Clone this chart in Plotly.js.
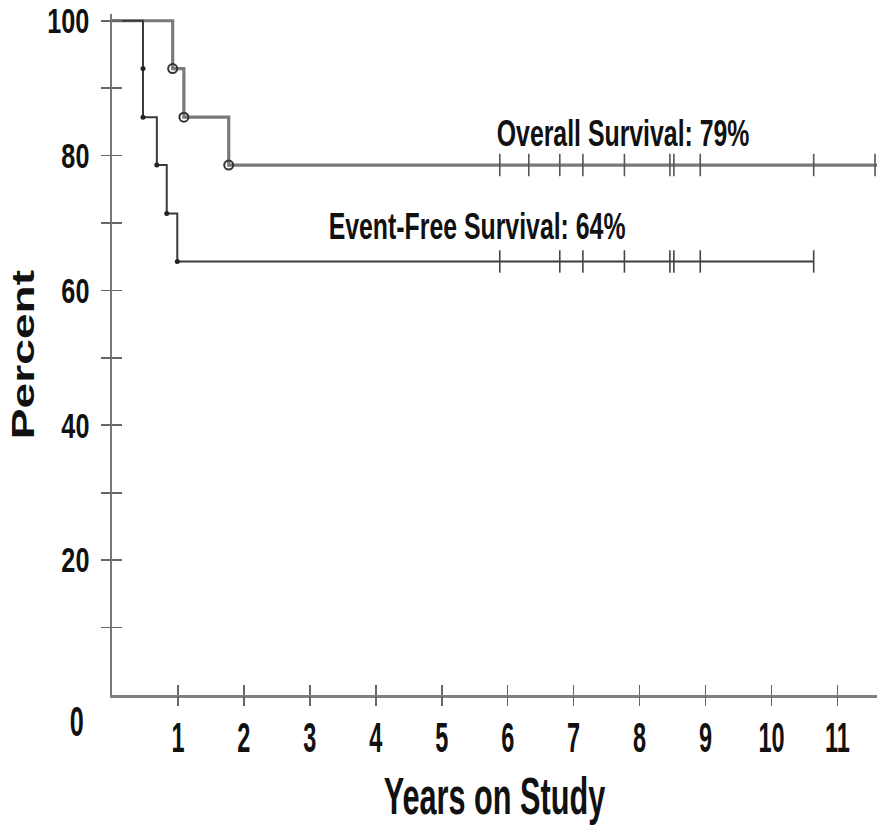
<!DOCTYPE html>
<html>
<head>
<meta charset="utf-8">
<script src="https://cdn.plot.ly/plotly-3.0.1.min.js"></script>
<style>html,body{margin:0;padding:0;background:#fff;}#chart{width:877px;height:826px;}</style>
</head>
<body>
<div id="chart"></div>
<script>
// Overall survival (Kaplan-Meier steps)
const osTimes   = [0, 0.92, 1.09, 1.77, 11.6];
const osPercent = [100, 92.9, 85.7, 78.6, 78.6];
const osEventTimes   = [0.92, 1.09, 1.77];
const osEventPercent = [92.9, 85.7, 78.6];
const osCensorTimes  = [5.88, 6.32, 6.79, 7.14, 7.77, 8.46, 8.52, 8.92, 10.64, 11.57];
const osCensorLevel  = 78.6;

// Event-free survival
const efsTimes   = [0, 0.47, 0.47, 0.68, 0.83, 0.99, 10.64];
const efsPercent = [100, 92.9, 85.7, 78.6, 71.4, 64.3, 64.3];
const efsEventTimes   = [0.47, 0.47, 0.68, 0.83, 0.99];
const efsEventPercent = [92.9, 85.7, 78.6, 71.4, 64.3];
const efsCensorTimes  = [5.88, 6.79, 7.14, 7.77, 8.46, 8.52, 8.92, 10.64];
const efsCensorLevel  = 64.3;

// Axis ticks
const xTickVals = [1, 2, 3, 4, 5, 6, 7, 8, 9, 10, 11];
const xTickText = ['1', '2', '3', '4', '5', '6', '7', '8', '9', '10', '11'];
const yTickVals = [10, 20, 30, 40, 50, 60, 70, 80, 90, 100];
const yTickText = ['', '20', '', '40', '', '60', '', '80', '', '100'];

// Labels
const osLabel = 'Overall Survival: 79%';
const efsLabel = 'Event-Free Survival: 64%';
const originLabel = '0';
const xTitle = 'Years on Study';
const yTitle = 'Percent';

const FONT = '"Liberation Sans", Arial, Helvetica, sans-serif';

const traces = [
  {x: osTimes, y: osPercent, mode: 'lines', line: {shape: 'hv', color: '#7a7a7a', width: 3.2}, hoverinfo: 'skip', showlegend: false},
  {x: efsTimes, y: efsPercent, mode: 'lines', line: {shape: 'hv', color: '#3a3a3a', width: 2}, hoverinfo: 'skip', showlegend: false},
  {x: osCensorTimes, y: osCensorTimes.map(() => osCensorLevel), mode: 'markers',
   marker: {symbol: 'line-ns', size: 16, line: {width: 1.6, color: '#555'}}, hoverinfo: 'skip', showlegend: false},
  {x: efsCensorTimes, y: efsCensorTimes.map(() => efsCensorLevel), mode: 'markers',
   marker: {symbol: 'line-ns', size: 16, line: {width: 1.6, color: '#444'}}, hoverinfo: 'skip', showlegend: false},
  {x: osEventTimes, y: osEventPercent, mode: 'markers',
   marker: {symbol: 'circle-open', size: 9, color: '#333', line: {width: 2, color: '#333'}}, hoverinfo: 'skip', showlegend: false},
  {x: efsEventTimes, y: efsEventPercent, mode: 'markers',
   marker: {symbol: 'circle', size: 5, color: '#222'}, hoverinfo: 'skip', showlegend: false},
  {x: [], y: [], xaxis: 'x2', yaxis: 'y2', hoverinfo: 'skip', showlegend: false}
];

const layout = {
  width: 877, height: 826,
  margin: {l: 112, r: 0, t: 14, b: 131},
  paper_bgcolor: '#fff', plot_bgcolor: '#fff',
  font: {family: FONT, color: '#111'},
  // main axes: line, inner half of the crossing ticks, tick labels
  xaxis: {
    range: [0, 11.6], showgrid: false, zeroline: false,
    showline: true, linecolor: '#808080', linewidth: 3,
    ticks: 'inside', ticklen: 10, tickwidth: 1.6, tickcolor: '#666',
    tickmode: 'array', tickvals: xTickVals, ticktext: xTickText,
    tickfont: {family: FONT, size: 42, color: '#111', weight: 'bold'},
    ticklabelstandoff: 4, ticklabeloverflow: 'allow'
  },
  yaxis: {
    range: [0, 101], showgrid: false, zeroline: false,
    showline: true, linecolor: '#777', linewidth: 1.6,
    ticks: 'inside', ticklen: 10, tickwidth: 1.6, tickcolor: '#666',
    tickmode: 'array', tickvals: yTickVals, ticktext: yTickText,
    tickfont: {family: FONT, size: 35, color: '#111', weight: 'bold'},
    ticklabelstandoff: 14, ticklabeloverflow: 'allow'
  },
  // overlay axes: outer half of the crossing ticks and the axis titles
  xaxis2: {
    range: [0, 11.6], overlaying: 'x', anchor: 'y', side: 'bottom',
    showgrid: false, zeroline: false, showline: false,
    ticks: 'outside', ticklen: 10, tickwidth: 1.6, tickcolor: '#666',
    tickmode: 'array', tickvals: xTickVals, showticklabels: false,
    title: {text: xTitle, font: {family: FONT, size: 52, color: '#111', weight: 'bold'}, standoff: 72}
  },
  yaxis2: {
    range: [0, 101], overlaying: 'y', anchor: 'x', side: 'left',
    showgrid: false, zeroline: false, showline: false,
    ticks: 'outside', ticklen: 10, tickwidth: 1.6, tickcolor: '#666',
    tickmode: 'array', tickvals: yTickVals, showticklabels: false,
    title: {text: yTitle, font: {family: FONT, size: 31, color: '#111', weight: 'bold'}, standoff: 57}
  },
  annotations: [
    {x: 7.745, y: 83.3, xref: 'x', yref: 'y', text: osLabel, showarrow: false, xanchor: 'center', yanchor: 'middle',
     font: {family: FONT, size: 36, color: '#111', weight: 'bold'}},
    {x: 5.53, y: 69.5, xref: 'x', yref: 'y', text: efsLabel, showarrow: false, xanchor: 'center', yanchor: 'middle',
     font: {family: FONT, size: 36, color: '#111', weight: 'bold'}},
    {x: -0.0464, y: -0.0396, xref: 'paper', yref: 'paper', text: originLabel, showarrow: false, xanchor: 'center', yanchor: 'middle',
     font: {family: FONT, size: 42, color: '#111', weight: 'bold'}}
  ]
};

// The reference uses a tall condensed face; squeeze/stretch glyphs along the text direction.
function setLength(el, factor) {
  const len = el.getComputedTextLength();
  if (!len) return;
  el.setAttribute('textLength', (len * factor).toFixed(2));
  el.setAttribute('lengthAdjust', 'spacingAndGlyphs');
}
function condense(gd) {
  gd.querySelectorAll('.xtick > text').forEach(el => setLength(el, 0.56));
  gd.querySelectorAll('.ytick > text').forEach(el => setLength(el, 0.72));
  gd.querySelectorAll('.x2title').forEach(el => setLength(el, 0.59));
  gd.querySelectorAll('.y2title').forEach(el => setLength(el, 1.49));
  gd.querySelectorAll('.annotation-text').forEach(el => {
    setLength(el, el.textContent === originLabel ? 0.6 : 0.69);
  });
}

Plotly.newPlot('chart', traces, layout, {displayModeBar: false, staticPlot: true}).then(condense);
</script>
</body>
</html>
